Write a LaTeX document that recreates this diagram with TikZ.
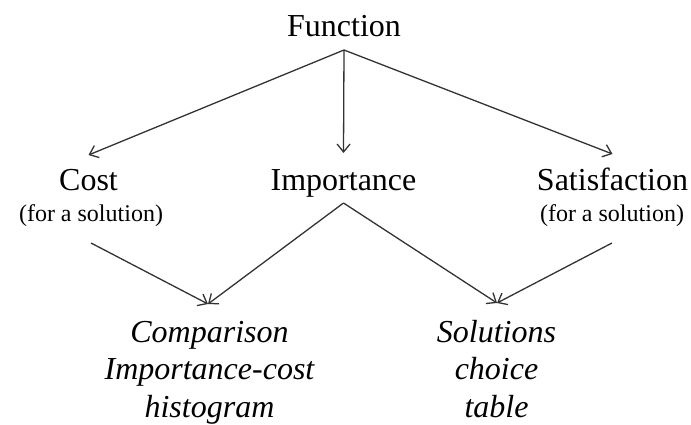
\documentclass[tikz,border=0pt]{standalone}
\usepackage{fontspec}
\setmainfont{Liberation Serif}
\usetikzlibrary{arrows.meta,calc}
\begin{document}
\begin{tikzpicture}[x=1pt,y=-1pt,
  lbl/.style={inner sep=0pt, font=\fontsize{32}{37}\selectfont},
  sublbl/.style={inner sep=0pt, font=\fontsize{24}{28}\selectfont},
  res/.style={inner sep=0pt, align=center, font=\fontsize{32}{37.5}\selectfont\itshape},
  conn/.style={draw=black!80, line width=1.3pt, -{Straight Barb[length=8pt,width=13pt]}}]
\useasboundingbox (0,0) rectangle (691,425);
% labels
\node[lbl, anchor=base] (func) at (344,37) {Function};
\node[lbl, anchor=base] (cost) at (88.5,190) {Cost};
\node[sublbl, anchor=base] (costsub) at (91,222) {(for a solution)};
\node[lbl, anchor=base] (imp) at (343.5,190) {Importance};
\node[lbl, anchor=base] (sat) at (612.5,190) {Satisfaction};
\node[sublbl, anchor=base] (satsub) at (612,222) {(for a solution)};
\node[res, anchor=base] (comp) at (209.5,417) {Comparison\\Importance-cost\\histogram};
\node[res, anchor=base] (sol) at (496.5,417) {Solutions\\choice\\table};
% connection points
\coordinate (fa) at ($(func.base)+(0,13)$);
\coordinate (ct) at ($(cost.base)+(0,-35)$);
\coordinate (it) at ($(imp.base)+(0,-37)$);
\coordinate (st) at ($(sat.base)+(0,-36)$);
\coordinate (cb) at ($(costsub.base)+(0,21)$);
\coordinate (ib) at ($(imp.base)+(0,13)$);
\coordinate (sb) at ($(satsub.base)+(0,21)$);
\coordinate (compt) at ($(comp.base)+(-1.5,-113)$);
\coordinate (solt) at ($(sol.base)+(0.5,-114)$);
% connectors
\draw[conn] (fa) -- (ct);
\draw[conn] (fa) -- (it);
\draw[conn] (fa) -- (st);
\draw[conn] (cb) -- (compt);
\draw[conn] (ib) -- (compt);
\draw[conn] (ib) -- (solt);
\draw[conn] (sb) -- (solt);
\end{tikzpicture}
\end{document}
